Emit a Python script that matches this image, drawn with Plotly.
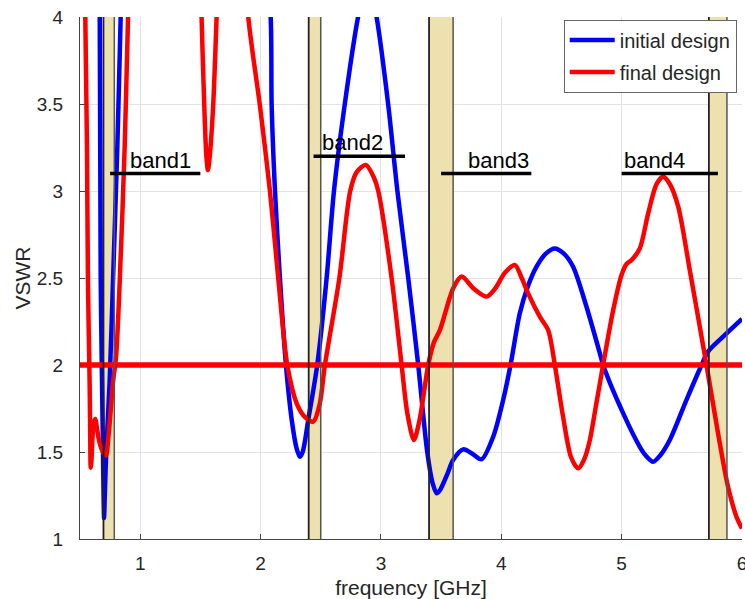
import plotly.graph_objects as go

# ---- data ----
f_initial = [0.50, 0.60, 0.65, 0.664, 0.672, 0.683, 0.691, 0.697, 0.700, 0.704, 0.718, 0.746, 0.774,
             0.810, 0.838, 0.86, 1.0, 1.5, 1.9, 2.0, 2.084, 2.092, 2.12, 2.161, 2.211, 2.26, 2.30,
             2.327, 2.35, 2.40, 2.471, 2.549, 2.61, 2.70, 2.81, 2.89, 2.964, 3.06, 3.137, 3.227,
             3.31, 3.385, 3.43, 3.463, 3.49, 3.55, 3.60, 3.684, 3.76, 3.836, 3.933, 4.016, 4.077,
             4.154, 4.22, 4.293, 4.37, 4.445, 4.52, 4.597, 4.708, 4.819, 4.846, 5.013, 5.151, 5.20,
             5.262, 5.32, 5.40, 5.539, 5.664, 5.718, 5.843, 6.0]
vswr_initial = [9.0, 7.0, 4.8, 4.0, 2.5, 1.9, 1.5, 1.2, 1.12, 1.2, 1.5, 1.9, 2.48,
                3.25, 4.0, 4.6, 6.0, 7.0, 5.5, 4.7, 4.0, 3.5, 3.0, 2.5, 2.0, 1.68, 1.52,
                1.473, 1.50, 1.70, 2.0, 2.5, 3.0, 3.5, 4.0, 4.25, 4.0, 3.5, 3.0, 2.5,
                2.0, 1.5, 1.32, 1.263, 1.28, 1.37, 1.454, 1.515, 1.49, 1.458, 1.588, 1.80, 2.0,
                2.297, 2.45, 2.565, 2.64, 2.67, 2.64, 2.565, 2.335, 2.067, 2.0, 1.722, 1.53, 1.48,
                1.444, 1.48, 1.569, 1.80, 2.0, 2.077, 2.163, 2.265]

f_final = [0.50, 0.53, 0.544, 0.558, 0.566, 0.580, 0.585, 0.589, 0.595, 0.605, 0.615, 0.628, 0.64,
           0.66, 0.69, 0.716, 0.735, 0.752, 0.774, 0.80, 0.83, 0.871, 0.899, 0.92, 1.0, 1.3, 1.45,
           1.50, 1.51, 1.532, 1.55, 1.563, 1.578, 1.607, 1.635, 1.66, 1.78, 1.86, 1.898, 1.995,
           2.078, 2.147, 2.222, 2.30, 2.37, 2.438, 2.49, 2.535, 2.655, 2.745, 2.80, 2.875, 2.94,
           2.978, 3.089, 3.172, 3.22, 3.274, 3.32, 3.393, 3.44, 3.49, 3.60, 3.67, 3.77, 3.878,
           3.95, 4.03, 4.113, 4.17, 4.224, 4.32, 4.39, 4.445, 4.514, 4.58, 4.639, 4.69, 4.736,
           4.79, 4.846, 4.93, 4.999, 5.04, 5.082, 5.151, 5.22, 5.29, 5.345, 5.40, 5.47, 5.566,
           5.705, 5.801, 5.884, 5.954, 6.0]
vswr_final = [7.0, 5.0, 4.0, 3.25, 2.48, 1.9, 1.6, 1.41, 1.45, 1.6, 1.67, 1.69, 1.64,
              1.56, 1.5, 1.48, 1.58, 1.71, 1.9, 2.05, 2.48, 3.25, 4.0, 4.5, 5.5, 6.0, 5.0,
              4.3, 4.0, 3.5, 3.2, 3.12, 3.2, 3.5, 4.0, 4.5, 5.0, 4.5, 4.0, 3.49,
              3.0, 2.5, 2.0, 1.78, 1.70, 1.674, 1.77, 2.0, 2.5, 3.0, 3.11, 3.15, 3.08,
              3.0, 2.5, 2.0, 1.72, 1.569, 1.68, 2.0, 2.13, 2.2, 2.44, 2.508, 2.44, 2.393,
              2.44, 2.53, 2.575, 2.50, 2.41, 2.278, 2.20, 2.0, 1.70, 1.47, 1.406, 1.46, 1.569,
              1.78, 2.0, 2.316, 2.517, 2.58, 2.603, 2.67, 2.87, 3.04, 3.082, 3.04, 2.91, 2.546,
              2.0, 1.607, 1.30, 1.128, 1.06]

threshold = 2.0

band_lo = [0.695, 2.40, 3.40, 5.725]
band_hi = [0.785, 2.50, 3.60, 5.875]

band_names = ["band1", "band2", "band3", "band4"]
band_bar_x0 = [0.75, 2.44, 3.50, 5.00]
band_bar_x1 = [1.50, 3.20, 4.25, 5.80]
band_bar_y = [3.10, 3.20, 3.10, 3.10]
band_text_x = [0.90, 2.49, 3.71, 5.00]

x_ticks = [1, 2, 3, 4, 5, 6]
y_ticks = [1, 1.5, 2, 2.5, 3, 3.5, 4]
y_ticklabels = ["1", "1.5", "2", "2.5", "3", "3.5", "4"]

FONT = "Liberation Sans, Arial, Helvetica, sans-serif"

fig = go.Figure()

fig.add_trace(go.Scatter(x=f_initial, y=vswr_initial, mode="lines", name="initial design",
                         legendgroup="a",
                         line=dict(color="#0000FF", width=4.5, shape="spline", smoothing=0.8)))
fig.add_trace(go.Scatter(x=f_final, y=vswr_final, mode="lines", name="final design",
                         legendgroup="b",
                         line=dict(color="#FF0000", width=4.5, shape="spline", smoothing=0.8)))
fig.add_trace(go.Scatter(x=[0.5, 6.0], y=[threshold, threshold], mode="lines", showlegend=False,
                         line=dict(color="#FF0000", width=5.5), hoverinfo="skip"))

shapes = []
for lo, hi in zip(band_lo, band_hi):
    shapes.append(dict(type="rect", xref="x", yref="y", x0=lo, x1=hi, y0=1, y1=4,
                       fillcolor="#EEE1B0", line=dict(width=0), layer="between"))
    shapes.append(dict(type="line", xref="x", yref="y", x0=lo, x1=lo, y0=1, y1=4,
                       line=dict(color="#222222", width=1.8), layer="above"))
    shapes.append(dict(type="line", xref="x", yref="y", x0=hi, x1=hi, y0=1, y1=4,
                       line=dict(color="#555555", width=1.5), layer="above"))
for x0, x1, y in zip(band_bar_x0, band_bar_x1, band_bar_y):
    shapes.append(dict(type="line", xref="x", yref="y", x0=x0, x1=x1, y0=y, y1=y,
                       line=dict(color="#000000", width=3.5), layer="above"))

annotations = []
for name, tx, y in zip(band_names, band_text_x, band_bar_y):
    annotations.append(dict(x=tx, y=y, xref="x", yref="y", text=name, showarrow=False,
                            xanchor="left", yanchor="bottom", yshift=-1,
                            font=dict(family=FONT, size=22, color="#000000")))

fig.update_layout(
    width=745, height=599,
    margin=dict(l=80, r=3, t=17, b=60, autoexpand=False),
    paper_bgcolor="white", plot_bgcolor="white",
    font=dict(family=FONT, size=19, color="#262626"),
    shapes=shapes, annotations=annotations,
    showlegend=True,
    legend=dict(x=0.992, y=0.995, xanchor="right", yanchor="top",
                bgcolor="white", bordercolor="#666666", borderwidth=1,
                tracegroupgap=3, itemwidth=45,
                font=dict(family=FONT, size=20, color="#262626")),
)
fig.update_xaxes(range=[0.5, 6], tickvals=x_ticks, ticks="inside", ticklen=5, tickcolor="#444444",
                 showline=True, linecolor="#444444", linewidth=1, showgrid=True, gridcolor="#E3E3E3",
                 zeroline=False, tickfont=dict(size=19, color="#262626"), automargin=False,
                 ticklabelstandoff=7, ticklabeloverflow="allow",
                 title=dict(text="frequency [GHz]", font=dict(size=21, color="#262626"), standoff=10))
fig.update_yaxes(range=[1, 4], tickvals=y_ticks, ticktext=y_ticklabels, ticks="inside", ticklen=5,
                 tickcolor="#444444", showline=True, linecolor="#444444", linewidth=1, showgrid=True,
                 gridcolor="#E3E3E3", zeroline=False, tickfont=dict(size=19, color="#262626"),
                 ticklabelstandoff=12, automargin=False,
                 title=dict(text="VSWR", font=dict(size=21, color="#262626"), standoff=0))

fig.write_html("out.html")
